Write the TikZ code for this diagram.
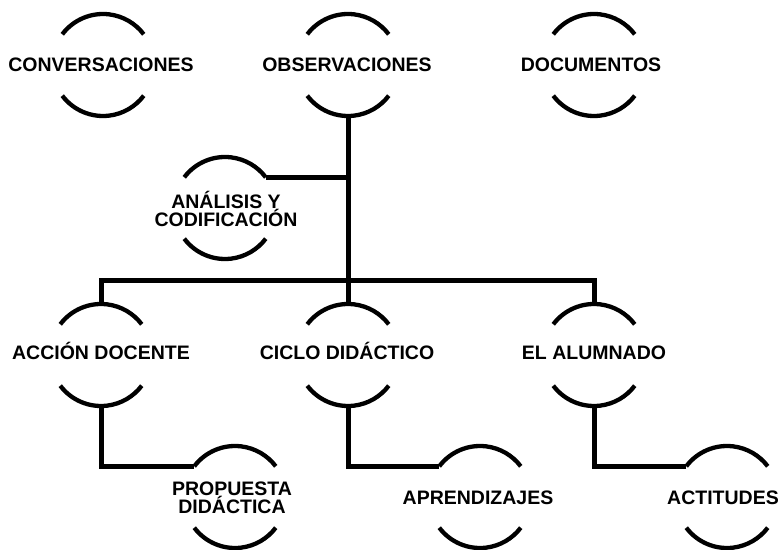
\documentclass[tikz,border=0pt]{standalone}
\usepackage{fontspec}
\setmainfont{Liberation Sans}
\begin{document}
\begin{tikzpicture}[x=1pt,y=1pt,
  hub/.style={circle, minimum size=102pt, inner sep=0pt, outer sep=0pt},
  lab/.style={font=\bfseries\fontsize{19.5}{18.5}\selectfont, align=center, inner sep=0pt},
  lab1/.style={lab, text height=14pt, text depth=0pt},
  arcline/.style={line width=4.3pt},
  link/.style={line width=5pt, line join=miter}]
\useasboundingbox (0,0) rectangle (781,549);
% hubs (invisible circles) and their texts
\node[hub] (conv) at (103,484) {};
\node[hub] (obs)  at (348,484) {};
\node[hub] (doc)  at (594,484) {};
\node[hub] (ana)  at (225,341) {};
\node[hub] (acc)  at (101,194) {};
\node[hub] (cic)  at (348,194) {};
\node[hub] (alu)  at (594,194) {};
\node[hub] (pro)  at (235,52) {};
\node[hub] (apr)  at (480,52) {};
\node[hub] (act)  at (727,52) {};
\node[lab1] (conv-t) at (101,484) {CONVERSACIONES};
\node[lab1] (obs-t)  at (347,484) {OBSERVACIONES};
\node[lab1] (doc-t)  at (591,484) {DOCUMENTOS};
\node[lab]  (ana-t)  at (226,340) {ANÁLISIS Y\\CODIFICACIÓN};
\node[lab1] (acc-t)  at (101,196) {ACCIÓN DOCENTE};
\node[lab1] (cic-t)  at (347,196) {CICLO DIDÁCTICO};
\node[lab1] (alu-t)  at (594,196) {EL ALUMNADO};
\node[lab]  (pro-t)  at (232,51) {PROPUESTA\\DIDÁCTICA};
\node[lab1] (apr-t)  at (478,52) {APRENDIZAJES};
\node[lab1] (act-t)  at (723,52) {ACTITUDES};
% arcs above and below each text
\foreach \n in {conv,obs,doc,ana,acc,cic,alu,pro,apr,act}{
  \draw[arcline] (\n.143) arc[start angle=143, end angle=37, radius=51];
  \draw[arcline] (\n.217) arc[start angle=217, end angle=323, radius=51];
}
% connectors
\coordinate (bus) at (0,268);
\draw[link] (obs.south) -- (cic.north);
\draw[link] (ana.37) -- (ana.37 -| obs.south);
\draw[link] (acc.north) -- (acc.north |- bus) -| (alu.north);
\draw[link] (acc.south) |- (pro.143);
\draw[link] (cic.south) |- (apr.143);
\draw[link] (alu.south) |- (act.143);
\end{tikzpicture}
\end{document}
